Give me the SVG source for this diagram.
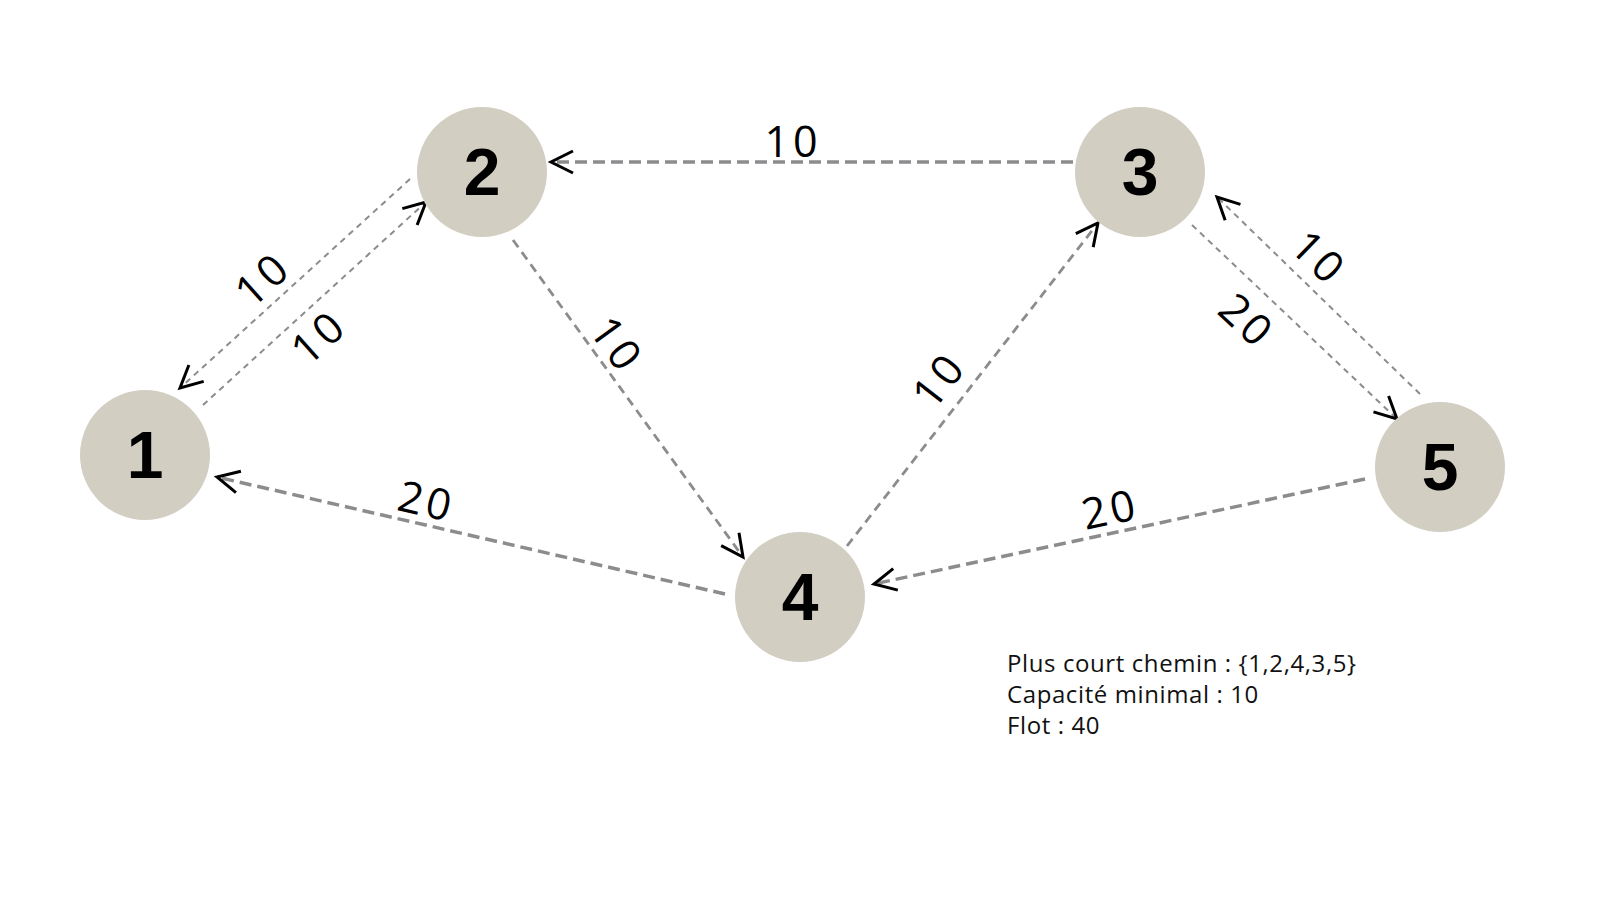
<svg xmlns="http://www.w3.org/2000/svg" width="1600" height="900" viewBox="0 0 1600 900">
<defs>
<marker id="arr" markerUnits="userSpaceOnUse" viewBox="-26 -14 30 28" refX="0" refY="0" markerWidth="30" markerHeight="28" orient="auto" overflow="visible">
<path d="M-22,-11 L0,0 L-22,11" fill="none" stroke="#000" stroke-width="3" stroke-dasharray="none" stroke-linejoin="miter"/>
</marker>
</defs>
<style>
.node circle{fill:#d3cec2}
.node text{font-family:"Liberation Sans",Arial,sans-serif;font-weight:900;font-size:66px;fill:#000;text-anchor:middle;dominant-baseline:central}
.e{fill:none;stroke:#8c8c8f;marker-end:url(#arr)}
.thick{stroke-width:3.5;stroke-dasharray:12 6}
.med{stroke-width:2.8;stroke-dasharray:9 6}
.thin{stroke-width:2;stroke-dasharray:6 5}
.lbl{font-family:"Open Sans","Liberation Sans",sans-serif;font-size:43px;fill:#000;text-anchor:middle;dominant-baseline:central;letter-spacing:4px}
.info{font-family:"Open Sans","Liberation Sans",sans-serif;font-size:24px;letter-spacing:0.6px;fill:#111}
</style>
<rect width="1600" height="900" fill="#fff"/>
<g id="connectors">
<line class="e thick" x1="1073" y1="162" x2="551" y2="162"/>
<line class="e thin" x1="410" y1="179" x2="180" y2="388"/>
<line class="e thin" x1="203" y1="405" x2="426" y2="202"/>
<line class="e med" x1="513" y1="240" x2="743" y2="557"/>
<line class="e thick" x1="725" y1="594" x2="217" y2="477"/>
<line class="e med" x1="847" y1="546" x2="1098" y2="223"/>
<line class="e thin" x1="1192" y1="225" x2="1397" y2="419"/>
<line class="e thin" x1="1420" y1="394" x2="1217" y2="197"/>
<line class="e thick" x1="1365" y1="479" x2="874" y2="584"/>
<text class="lbl" x="793" y="140">10</text>
<text class="lbl" transform="translate(262,278) rotate(-42)">10</text>
<text class="lbl" transform="translate(318,336) rotate(-42)">10</text>
<text class="lbl" transform="translate(618,344) rotate(54)">10</text>
<text class="lbl" transform="translate(427,500) rotate(13)">20</text>
<text class="lbl" transform="translate(938,379) rotate(-52)">10</text>
<text class="lbl" transform="translate(1248,320) rotate(43)">20</text>
<text class="lbl" transform="translate(1320,257) rotate(44)">10</text>
<text class="lbl" transform="translate(1110,508) rotate(-12)">20</text>
</g>
<g id="node1" class="node"><circle cx="145" cy="455" r="65"/><text x="145" y="455">1</text></g>
<g id="node2" class="node"><circle cx="482" cy="172" r="65"/><text x="482" y="172">2</text></g>
<g id="node3" class="node"><circle cx="1140" cy="172" r="65"/><text x="1140" y="172">3</text></g>
<g id="node4" class="node"><circle cx="800" cy="597" r="65"/><text x="800" y="597">4</text></g>
<g id="node5" class="node"><circle cx="1440" cy="467" r="65"/><text x="1440" y="467">5</text></g>
<g id="info">
<text class="info" x="1007" y="672">Plus court chemin : {1,2,4,3,5}</text>
<text class="info" x="1007" y="703">Capacité minimal : 10</text>
<text class="info" x="1007" y="734">Flot : 40</text>
</g>
</svg>
